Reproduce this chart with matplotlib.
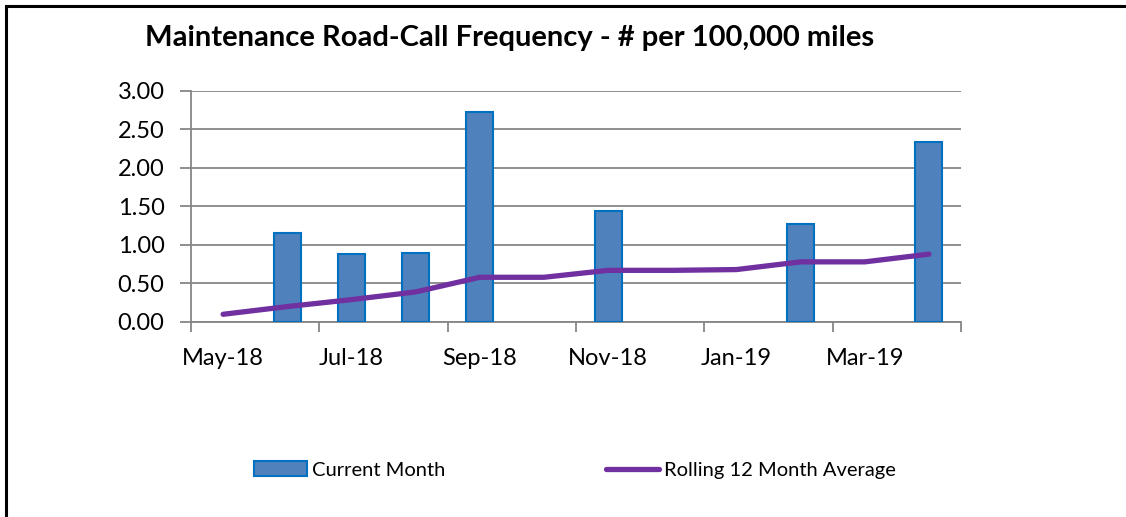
import numpy as np
import matplotlib
matplotlib.use('Agg')
import matplotlib.pyplot as plt
from matplotlib.patches import Rectangle

months = ['May-18', 'Jun-18', 'Jul-18', 'Aug-18', 'Sep-18', 'Oct-18',
          'Nov-18', 'Dec-18', 'Jan-19', 'Feb-19', 'Mar-19', 'Apr-19']
current_month = [0.00, 1.15, 0.88, 0.90, 2.73, 0.00,
                 1.44, 0.00, 0.00, 1.27, 0.00, 2.33]
rolling_avg = [0.10, 0.20, 0.29, 0.39, 0.58, 0.58,
               0.67, 0.67, 0.68, 0.78, 0.78, 0.88]
yticks = [0.0, 0.5, 1.0, 1.5, 2.0, 2.5, 3.0]

plt.rcParams['font.family'] = ['Lato', 'DejaVu Sans']

def main():
    fig = plt.figure(figsize=(11.26, 5.17), dpi=100)
    W, H = 1126, 517
    ax = fig.add_axes([191 / W, 1 - 322 / H, 770 / W, 231.3 / H])

    x = np.arange(len(months))
    vals = np.array(current_month)
    mask = vals > 0
    bars = ax.bar(x[mask], vals[mask], width=0.42, color='#4F81BD',
                  edgecolor='#0070C0', linewidth=1.5, zorder=3)
    line, = ax.plot(x, rolling_avg, color='#7030A0', linewidth=3.8,
                    solid_capstyle='round', zorder=4)

    ax.set_xlim(-0.5, len(months) - 0.5)
    ax.set_ylim(0, 3)
    ax.set_yticks(yticks)
    ax.set_yticklabels(['%.2f' % v for v in yticks], fontsize=17)
    ax.grid(axis='y', color='#868686', linewidth=1.3, zorder=0)
    ax.tick_params(axis='y', length=8, color='#868686', width=1.3, pad=11)

    ax.set_xticks(x[::2])
    ax.set_xticklabels(months[::2], fontsize=17)
    ax.set_xticks(np.arange(-0.5, len(months), 2), minor=True)
    ax.tick_params(axis='x', which='major', length=0, pad=19)
    ax.tick_params(axis='x', which='minor', length=7, color='#868686', width=1.3)

    for s in ['top', 'right']:
        ax.spines[s].set_visible(False)
    for s in ['left', 'bottom']:
        ax.spines[s].set_color('#868686')
        ax.spines[s].set_linewidth(1.3)

    fig.text(510 / W, 1 - 38 / H, 'Maintenance Road-Call Frequency - # per 100,000 miles',
             ha='center', va='center', fontsize=21, fontweight='bold')

    fig.legend([bars, line], ['Current Month', 'Rolling 12 Month Average'],
               loc='center', bbox_to_anchor=(575 / W, 1 - 470 / H), ncol=2,
               frameon=False, fontsize=14.5, handlelength=2.6, handleheight=0.7,
               columnspacing=8.0, handletextpad=0.25)

    fig.patches.append(Rectangle((6 / W, -0.1), 1.2, 1.1 - 6 / H,
                                 transform=fig.transFigure, fill=False,
                                 edgecolor='black', linewidth=2.2))

    fig.savefig('out.png', dpi=100)

if __name__ == '__main__':
    main()
